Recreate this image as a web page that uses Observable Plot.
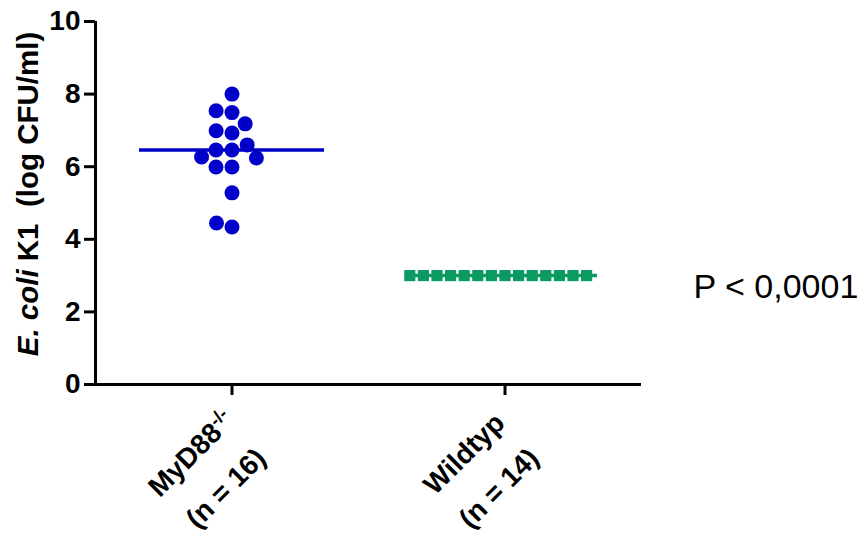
<!DOCTYPE html>
<html>
<head>
<meta charset="utf-8">
<script src="https://cdn.jsdelivr.net/npm/d3@7"></script>
<script src="https://cdn.jsdelivr.net/npm/@observablehq/plot@0.6"></script>
<style>
  body { margin: 0; background: #fff; }
</style>
</head>
<body>
<div id="chart"></div>
<script>
const groups = ["MyD88", "Wildtyp"];
const groupLabels = ["MyD88-/-\n(n = 16)", "Wildtyp\n(n = 14)"];
const myd88Values = [8.0, 7.49, 6.93, 6.46, 5.99, 5.28, 4.34, 7.54, 7.18, 6.99, 6.60, 6.46, 6.24, 6.27, 5.99, 4.45];
const wildtypValues = [3.0, 3.0, 3.0, 3.0, 3.0, 3.0, 3.0, 3.0, 3.0, 3.0, 3.0, 3.0, 3.0, 3.0];
const yTicks = [0, 2, 4, 6, 8, 10];
const yTitle = "E. coli K1 (log CFU/ml)";
const pText = "P < 0,0001";
const colors = ["#0000c8", "#0c9a63"];

const data = [
  ...myd88Values.map(v => ({group: groups[0], value: v})),
  ...wildtypValues.map(v => ({group: groups[1], value: v}))
];

const font = "'Liberation Sans', Arial, sans-serif";

const svg = Plot.plot({
  width: 860,
  height: 535,
  marginLeft: 95,
  marginRight: 219,
  marginTop: 21,
  marginBottom: 151,
  style: {fontFamily: font, color: "#000", background: "#fff", overflow: "visible"},
  fx: {domain: groups, padding: 0, axis: null},
  x: {domain: [0, 1], axis: null},
  y: {domain: [0, 10]},
  color: {domain: groups, range: colors},
  marks: [
    Plot.axisY({ticks: yTicks, tickSize: 11, tickPadding: 4, fontSize: 28, fontWeight: "bold", strokeWidth: 3, label: null}),
    Plot.ruleX([0], {fx: () => groups[0], x: d => d, y1: 0, y2: 10, strokeWidth: 3}),
    Plot.ruleY([0], {strokeWidth: 3}),
    Plot.axisFx({anchor: "bottom", tickSize: 11, strokeWidth: 3, tickFormat: () => "", label: null}),
    Plot.tickY(data, Plot.groupZ({y: "median"}, {fx: "group", y: "value", stroke: "group", strokeWidth: 3.5, insetLeft: 44, insetRight: 44})),
    Plot.dot(data.filter(d => d.group === groups[0]), Plot.dodgeX("middle", {fx: "group", y: "value", r: 7.5, padding: 1, fill: colors[0], symbol: "circle"})),
    Plot.dot(data.filter(d => d.group === groups[1]), Plot.dodgeX("middle", {fx: "group", y: "value", r: 6.3, padding: -0.1, fill: colors[1], symbol: "square"})),
    Plot.text(groups, {fx: d => d, text: (d, i) => groupLabels[i], frameAnchor: "bottom", lineAnchor: "middle", textAnchor: "middle", rotate: -45, dx: -28, dy: 82, fontSize: 28, fontWeight: "bold", lineHeight: 1.75}),
    Plot.text([yTitle], {fx: () => groups[0], frameAnchor: "left", lineAnchor: "middle", textAnchor: "middle", rotate: -90, dx: -67, dy: -9, fontSize: 29.5, fontWeight: "bold"}),
    Plot.text([pText], {fx: () => groups[1], frameAnchor: "bottom-right", lineAnchor: "middle", textAnchor: "start", dx: 52, dy: -97, fontSize: 34, fontWeight: "normal"})
  ]
});

// post-process: superscript and italic parts of labels
const NS = "http://www.w3.org/2000/svg";
svg.querySelectorAll("tspan, text").forEach(el => {
  if (el.childElementCount === 0 && el.textContent === "MyD88-/-") {
    el.textContent = "MyD88";
    const sup = document.createElementNS(NS, "tspan");
    sup.setAttribute("baseline-shift", "super");
    sup.setAttribute("font-size", "0.65em");
    sup.textContent = "-/-";
    el.appendChild(sup);
  }
  if (el.childElementCount === 0 && el.textContent === yTitle) {
    el.textContent = "";
    const it = document.createElementNS(NS, "tspan");
    it.setAttribute("font-style", "italic");
    it.textContent = "E. coli";
    el.appendChild(it);
    el.appendChild(document.createTextNode(" K1  (log CFU/ml)"));
  }
});

document.getElementById("chart").appendChild(svg);
</script>
</body>
</html>
